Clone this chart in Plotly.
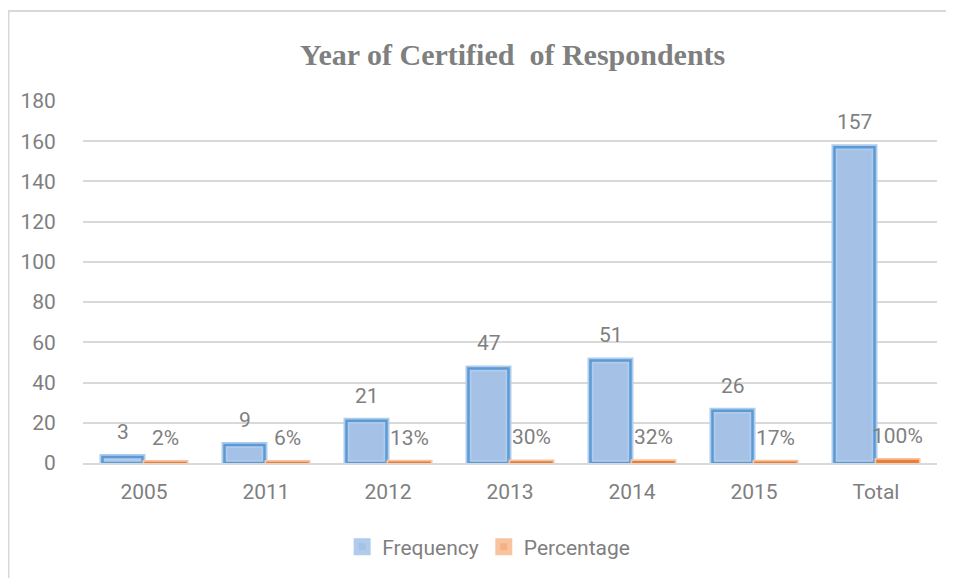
import plotly.graph_objects as go

categories = ["2005", "2011", "2012", "2013", "2014", "2015", "Total"]
frequency = [3, 9, 21, 47, 51, 26, 157]
percentage = [0.02, 0.06, 0.13, 0.30, 0.32, 0.17, 1.00]
y_ticks = [0, 20, 40, 60, 80, 100, 120, 140, 160, 180]

FONT = "Roboto"
GRAY = "#7f7f7f"
FS = 21

fig = go.Figure()
# Frequency: light outer frame + darker inner outline
fig.add_trace(go.Bar(
    x=categories, y=frequency, name="Frequency", offsetgroup="f",
    marker=dict(color="#a5c1e6", line=dict(color="#b0cbeb", width=6)),
))
fig.add_trace(go.Bar(
    x=categories, y=frequency, name="Frequency", offsetgroup="f", showlegend=False,
    marker=dict(color="rgba(0,0,0,0)", line=dict(color="#5b9bd5", width=2.5)),
    hoverinfo="skip",
))
# Percentage
fig.add_trace(go.Bar(
    x=categories, y=percentage, name="Percentage", offsetgroup="p",
    marker=dict(color="#f4b183", line=dict(color="#f8c4a0", width=6)),
))
fig.add_trace(go.Bar(
    x=categories, y=percentage, name="Percentage", offsetgroup="p", showlegend=False,
    marker=dict(color="rgba(0,0,0,0)", line=dict(color="#ed7d31", width=2.5)),
    hoverinfo="skip",
))

# data labels (x given as category index so numeric-looking names are not read as positions)
annotations = []
for i, (f, p) in enumerate(zip(frequency, percentage)):
    annotations.append(dict(x=i, y=f, text=str(f), showarrow=False, xref="x", yref="y",
                            xshift=-21.5, yshift=25, yanchor="middle",
                            font=dict(family=FONT, size=FS, color=GRAY)))
    annotations.append(dict(x=i, y=p, text=f"{round(p*100)}%", showarrow=False, xref="x", yref="y",
                            xshift=21.5, yshift=25, yanchor="middle",
                            font=dict(family=FONT, size=FS, color=GRAY)))

fig.update_layout(
    width=954, height=578,
    margin=dict(l=75, r=25, t=93, b=123),
    paper_bgcolor="white", plot_bgcolor="white",
    barmode="group", bargap=0.295, bargroupgap=0.07,
    title=dict(text="<b>Year of Certified  of Respondents</b>", x=0.529, xanchor="center",
               y=0.920, yanchor="middle",
               font=dict(family="Liberation Serif", size=30, color=GRAY)),
    legend=dict(orientation="h", x=0.475, xanchor="center", y=-0.232, yanchor="middle",
                font=dict(family=FONT, size=FS, color=GRAY),
                bgcolor="rgba(0,0,0,0)"),
    xaxis=dict(type="category", categoryorder="array", categoryarray=categories,
               showline=True, linecolor="#d9d9d9", linewidth=1.5,
               ticks="outside", ticklen=9, tickcolor="rgba(0,0,0,0)",
               tickfont=dict(family=FONT, size=FS, color=GRAY)),
    yaxis=dict(range=[0, 180], tickvals=y_ticks, showgrid=True, gridcolor="#d9d9d9", gridwidth=1.5,
               zeroline=False, showline=False,
               ticks="outside", ticklen=22, tickcolor="rgba(0,0,0,0)",
               tickfont=dict(family=FONT, size=FS, color=GRAY)),
    annotations=annotations,
    shapes=[dict(type="rect", xref="paper", yref="paper", x0=-0.0872, x1=1.2, y0=-0.6, y1=1.2486,
                 line=dict(color="#d9d9d9", width=2), fillcolor="rgba(0,0,0,0)", layer="below")],
)

fig.write_html("out.html")
